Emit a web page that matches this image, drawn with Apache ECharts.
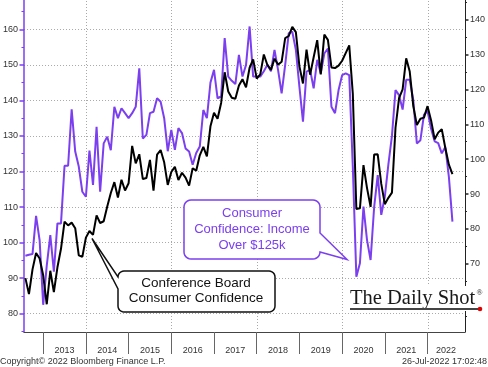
<!DOCTYPE html>
<html><head><meta charset="utf-8">
<script src="https://cdn.jsdelivr.net/npm/echarts@6/dist/echarts.min.js"></script>
<style>html,body{margin:0;padding:0;background:#fff}#c{width:488px;height:367px}</style>
</head><body><div id="c"></div>
<script>
// ---- data (monthly, Jul 2012 .. Jul 2022) ----
const startYear = 2012, startMonth = 7;
const years = [2013, 2014, 2015, 2016, 2017, 2018, 2019, 2020, 2021, 2022];
const gridYears = [2014, 2016, 2018, 2020, 2022];
const leftTicks = [80, 90, 100, 110, 120, 130, 140, 150, 160];
const rightTicks = [70, 80, 90, 100, 110, 120, 130, 140];
const incomeOver125k = [
  96.3, 96.6, 96.8, 107.5, 100.6, 82.5,
  93.5, 102.1, 91.8, 105.4, 105.4, 121.6, 121.6, 137.5, 125.6, 121.4, 114.3, 112.9,
  125.9, 116.2, 132.6, 114.3, 127.9, 129.8, 126, 138.2, 135, 137.8, 136.4, 135,
  136.4, 138.2, 149, 129.3, 130.3, 136.4, 136.8, 140.6, 139.6, 135, 125.7, 131.7,
  126.1, 132.2, 130.8, 126.5, 125.6, 121.9, 125.2, 127, 137.3, 135, 145, 148.6,
  140.6, 141.1, 157.5, 146.7, 145.5, 144.6, 152.8, 146.7, 150, 160.8, 146.7, 146.7,
  146.7, 148.2, 150, 148.2, 154.2, 148.6, 142, 150, 158.9, 159.3, 154.2, 143.8,
  134, 148.1, 148.6, 143.4, 151.4, 147.6, 153.2, 154.6, 138.2, 136.4, 142.9, 147.1,
  147.6, 147.1, 121.4, 90.4, 94.2, 110.1, 100.7, 95.1, 110, 119, 107.8, 112.9,
  122, 130, 142.9, 141.5, 137.4, 145.8, 145.8, 140.1, 127.9, 128.8, 136, 137,
  132, 128.5, 128, 125.1, 126.9, 118.5, 105.9
];
const conferenceBoard = [
  65.9, 61.3, 68.4, 73.1, 71.5, 66.7,
  58.4, 68.0, 61.9, 69.0, 74.3, 82.1, 81.0, 81.8, 80.2, 72.4, 72.0, 77.5,
  79.4, 78.3, 83.9, 81.7, 82.2, 86.4, 90.3, 93.4, 89.0, 94.1, 91.0, 93.1,
  103.8, 98.8, 101.4, 94.3, 94.6, 99.8, 91.0, 101.3, 102.6, 99.1, 92.6, 96.3,
  97.8, 94.0, 96.1, 94.7, 92.4, 97.4, 96.7, 101.1, 103.5, 100.8, 109.4, 113.3,
  111.6, 116.1, 124.9, 119.4, 117.6, 117.3, 121.1, 122.9, 120.6, 126.2, 128.6, 123.1,
  124.3, 130.0, 127.0, 125.6, 128.8, 127.1, 127.9, 134.7, 135.3, 137.9, 136.4, 126.6,
  121.7, 131.4, 124.2, 129.2, 134.1, 124.3, 135.7, 134.2, 126.3, 126.1, 126.8, 128.2,
  130.4, 132.6, 118.8, 85.7, 85.9, 98.3, 91.7, 86.3, 101.3, 101.4, 92.9, 87.1,
  88.9, 90.4, 109.0, 117.5, 120.0, 128.9, 125.1, 115.2, 109.8, 111.6, 111.9, 115.2,
  111.1, 105.7, 107.6, 108.6, 103.2, 98.4, 95.7
];

// ---- build ----
const PURPLE = '#7b3ff0';
const monthX = i => startYear + (startMonth + i) / 12; // month-end position
const purpleData = incomeOver125k.map((v, i) => [monthX(i), v]);
const blackData = conferenceBoard.map((v, i) => [monthX(i), v]);
const xMin = 2012.551, xMax = 2022.877;
const leftMin = 74.85, leftMax = 168.24;
const labelPos = years.map(y => y === 2022 ? 2022.43 : y + 0.5);
const minorLeft = [], minorRight = [];
for (let v = 75; v <= 165; v += 10) minorLeft.push(v);
for (let v = 55; v <= 145; v += 10) minorRight.push(v);
const TICKFONT = 'Liberation Sans, Arial, sans-serif';

function callout(x, y, w, h, r, p) {
  const pts = [];
  const arc = (cx, cy, a0, a1) => { for (let k = 0; k <= 6; k++) { const a = a0 + (a1 - a0) * k / 6; pts.push([cx + r * Math.cos(a), cy + r * Math.sin(a)]); } };
  arc(x + r, y + r, Math.PI, 1.5 * Math.PI);
  arc(x + w - r, y + r, -0.5 * Math.PI, 0);
  if (p.side === 'right') pts.push([x + w, p.y1], [p.tx, p.ty], [x + w, p.y2]);
  arc(x + w - r, y + h - r, 0, 0.5 * Math.PI);
  arc(x + r, y + h - r, 0.5 * Math.PI, Math.PI);
  if (p.side === 'left') pts.push([x, p.y2], [p.tx, p.ty], [x, p.y1]);
  return pts;
}

const chart = echarts.init(document.getElementById('c'), null, { renderer: 'canvas' });
const option = {
  animation: false,
  backgroundColor: '#fff',
  grid: [{ left: 21, right: 23, top: 0, bottom: 35, containLabel: false }],
  xAxis: [{
    type: 'value', min: xMin, max: xMax, position: 'bottom',
    axisLine: { show: true, lineStyle: { color: '#444', width: 1 } },
    axisTick: { show: true, customValues: years, length: 22, lineStyle: { color: '#666' } },
    axisLabel: { show: true, customValues: labelPos, formatter: v => String(Math.floor(v)), margin: 14, color: '#333', fontSize: 9, fontFamily: TICKFONT },
    splitLine: { show: false }
  }],
  yAxis: [{
    type: 'value', position: 'left', min: leftMin, max: leftMax,
    axisLine: { show: true, lineStyle: { color: PURPLE, width: 1.5 } },
    axisTick: { show: true, customValues: leftTicks, length: 4.5, lineStyle: { color: PURPLE, width: 1.5 } },
    axisLabel: { show: true, customValues: leftTicks, margin: 6, color: '#333', fontSize: 9, fontFamily: TICKFONT },
    splitLine: { show: true, lineStyle: { color: '#aaa', width: 1, type: [1, 2] } }
  }, {
    type: 'value', position: 'left', min: leftMin, max: leftMax,
    axisLine: { show: false }, axisLabel: { show: false }, splitLine: { show: false },
    axisTick: { show: true, customValues: minorLeft, length: 2.5, lineStyle: { color: PURPLE, width: 1 } }
  }, {
    type: 'value', position: 'right', min: 50.45, max: 145.62,
    axisLine: { show: true, lineStyle: { color: '#222', width: 1 } },
    axisTick: { show: true, customValues: rightTicks, length: 3.5, lineStyle: { color: '#222', width: 1.5 } },
    axisLabel: { show: true, customValues: rightTicks, margin: 5, color: '#333', fontSize: 9, fontFamily: TICKFONT },
    splitLine: { show: false }
  }, {
    type: 'value', position: 'right', min: 50.45, max: 145.62,
    axisLine: { show: false }, axisLabel: { show: false }, splitLine: { show: false },
    axisTick: { show: true, customValues: minorRight, length: 2, lineStyle: { color: '#222', width: 1 } }
  }],
  series: [{
    name: 'Consumer Confidence: Income Over $125k', type: 'line', xAxisIndex: 0, yAxisIndex: 0,
    data: purpleData, showSymbol: false, symbol: 'none', z: 3,
    lineStyle: { color: PURPLE, width: 2 }
  }, {
    name: 'Conference Board Consumer Confidence', type: 'line', xAxisIndex: 0, yAxisIndex: 2,
    data: blackData, showSymbol: false, symbol: 'none', z: 4,
    lineStyle: { color: '#000', width: 2 }
  }],
  graphic: {
    elements: [
    { type: 'polygon', z: 100, shape: { points: callout(184, 200, 136, 59, 7, { side: 'right', y1: 233, y2: 252, tx: 347, ty: 259.5 }) },
      style: { fill: '#fff', stroke: PURPLE, lineWidth: 1.5 } },
    { type: 'text', z: 101, x: 252, y: 229.5, style: { text: 'Consumer\nConfidence: Income\nOver $125k', fill: PURPLE, font: '13px Liberation Sans, Arial, sans-serif', textAlign: 'center', textVerticalAlign: 'middle', lineHeight: 16 } },
    { type: 'polygon', z: 100, shape: { points: callout(118, 271, 157, 41, 6, { side: 'left', y1: 277, y2: 289, tx: 92, ty: 238.5 }) },
      style: { fill: '#fff', stroke: '#111', lineWidth: 1.5 } },
    { type: 'text', z: 101, x: 196, y: 291, style: { text: 'Conference Board\nConsumer Confidence', fill: '#111', font: '13.5px Liberation Sans, Arial, sans-serif', textAlign: 'center', textVerticalAlign: 'middle', lineHeight: 15 } },
    { type: 'rect', z: 100, shape: { x: 345, y: 286, width: 130, height: 25 }, style: { fill: '#fff' } },
    { type: 'text', z: 101, x: 350, y: 298.5, style: { text: 'The Daily Shot', fill: '#1a1a1a', font: '20.5px Liberation Serif, Times New Roman, serif', textAlign: 'left', textVerticalAlign: 'middle' } },
    { type: 'text', z: 101, x: 476.5, y: 293, style: { text: '®', fill: '#1a1a1a', font: '8px Liberation Serif, serif', textAlign: 'left', textVerticalAlign: 'middle' } },
    { type: 'line', z: 101, shape: { x1: 350, y1: 309, x2: 478, y2: 309 }, style: { stroke: '#444', lineWidth: 2 } },
    { type: 'circle', z: 102, shape: { cx: 480, cy: 309, r: 2.3 }, style: { fill: '#e00000' } },
    { type: 'text', z: 101, x: 0, y: 361.5, style: { text: 'Copyright\u00a9 2022 Bloomberg Finance L.P.', fill: '#333', font: '9px Liberation Sans, Arial, sans-serif', textAlign: 'left', textVerticalAlign: 'middle' } },
    { type: 'text', z: 101, x: 487, y: 361.5, style: { text: '26-Jul-2022 17:02:48', fill: '#333', font: '9px Liberation Sans, Arial, sans-serif', textAlign: 'right', textVerticalAlign: 'middle' } }
    ]
  }
};
chart.setOption(option);

// vertical dotted grid lines at every other year, positioned through the x axis scale
let yTop = chart.convertToPixel({ yAxisIndex: 0 }, leftMax);
let yBot = chart.convertToPixel({ yAxisIndex: 0 }, leftMin);
if (!isFinite(yTop)) yTop = 0;
if (!isFinite(yBot)) yBot = 332;
const vEls = [];
gridYears.forEach(y => {
  let px = chart.convertToPixel({ xAxisIndex: 0 }, y);
  if (Array.isArray(px)) px = px[0];
  px = Math.round(px);
  for (let yy = Math.ceil(yTop) + 1; yy < yBot - 1; yy += 3) {
    vEls.push({ type: 'rect', z: 1, silent: true, shape: { x: px, y: yy, width: 1, height: 1 }, style: { fill: '#a8a8a8' } });
  }
});
chart.setOption({ graphic: { elements: option.graphic.elements.concat(vEls) } }, { replaceMerge: ['graphic'] });
</script></body></html>
